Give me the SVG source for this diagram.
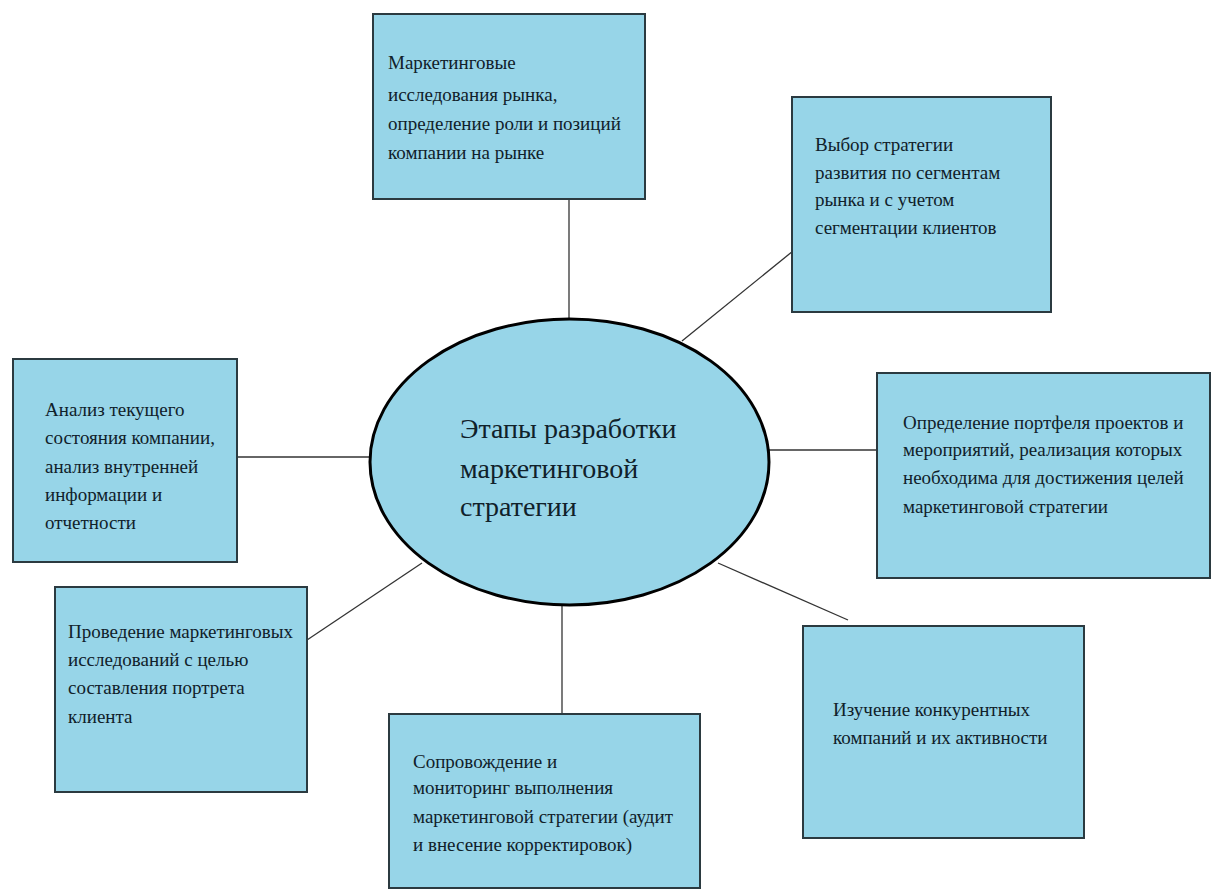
<svg xmlns="http://www.w3.org/2000/svg" width="1214" height="895" viewBox="0 0 1214 895">
<style>
.box{fill:#97d5e8;stroke:#2b3a40;stroke-width:2}
.t{font-family:"Liberation Serif","Times New Roman",serif;font-size:19px;fill:#10212a}
.c{font-family:"Liberation Serif","Times New Roman",serif;font-size:28px;fill:#10212a}
.ln{stroke:#333;stroke-width:1.3;fill:none}
</style>
<rect width="1214" height="895" fill="#ffffff"/>
<g id="connectors">
<line class="ln" x1="569" y1="199" x2="569" y2="319"/>
<line class="ln" x1="682" y1="341" x2="793" y2="251"/>
<line class="ln" x1="237" y1="457" x2="370" y2="457"/>
<line class="ln" x1="769" y1="450" x2="877" y2="450"/>
<line class="ln" x1="307" y1="640" x2="422" y2="563"/>
<line class="ln" x1="562" y1="605" x2="562" y2="714"/>
<line class="ln" x1="718" y1="563" x2="848" y2="620"/>
</g>
<g id="center">
<ellipse cx="569.5" cy="462" rx="199.5" ry="143" fill="#97d5e8" stroke="#000" stroke-width="3"/>
<text class="c" x="460" y="438">Этапы разработки</text>
<text class="c" x="460" y="478">маркетинговой</text>
<text class="c" x="460" y="516">стратегии</text>
</g>
<g id="n-top">
<rect class="box" x="373" y="14" width="272" height="185"/>
<text class="t" x="388" y="69">Маркетинговые</text>
<text class="t" x="388" y="101">исследования рынка,</text>
<text class="t" x="388" y="130">определение роли и позиций</text>
<text class="t" x="388" y="159">компании на рынке</text>
</g>
<g id="n-topright">
<rect class="box" x="792" y="97" width="259" height="215"/>
<text class="t" x="815" y="151">Выбор стратегии</text>
<text class="t" x="815" y="179">развития по сегментам</text>
<text class="t" x="815" y="206">рынка и с учетом</text>
<text class="t" x="815" y="234">сегментации клиентов</text>
</g>
<g id="n-left">
<rect class="box" x="13" y="359" width="224" height="203"/>
<text class="t" x="45" y="416">Анализ текущего</text>
<text class="t" x="45" y="444">состояния компании,</text>
<text class="t" x="45" y="473">анализ внутренней</text>
<text class="t" x="45" y="501">информации и</text>
<text class="t" x="45" y="529">отчетности</text>
</g>
<g id="n-right">
<rect class="box" x="877" y="373" width="333" height="205"/>
<text class="t" x="903" y="429">Определение портфеля проектов и</text>
<text class="t" x="903" y="456">мероприятий, реализация которых</text>
<text class="t" x="903" y="484">необходима для достижения целей</text>
<text class="t" x="903" y="513">маркетинговой стратегии</text>
</g>
<g id="n-bottomleft">
<rect class="box" x="55" y="587" width="252" height="205"/>
<text class="t" x="68" y="638">Проведение маркетинговых</text>
<text class="t" x="68" y="666">исследований с целью</text>
<text class="t" x="68" y="694">составления портрета</text>
<text class="t" x="68" y="723">клиента</text>
</g>
<g id="n-bottom">
<rect class="box" x="389" y="714" width="311" height="174"/>
<text class="t" x="413" y="768">Сопровождение и</text>
<text class="t" x="413" y="794">мониторинг выполнения</text>
<text class="t" x="413" y="823">маркетинговой стратегии (аудит</text>
<text class="t" x="413" y="851">и внесение корректировок)</text>
</g>
<g id="n-bottomright">
<rect class="box" x="803" y="626" width="281" height="212"/>
<text class="t" x="833" y="716">Изучение конкурентных</text>
<text class="t" x="833" y="744">компаний и их активности</text>
</g>
</svg>
